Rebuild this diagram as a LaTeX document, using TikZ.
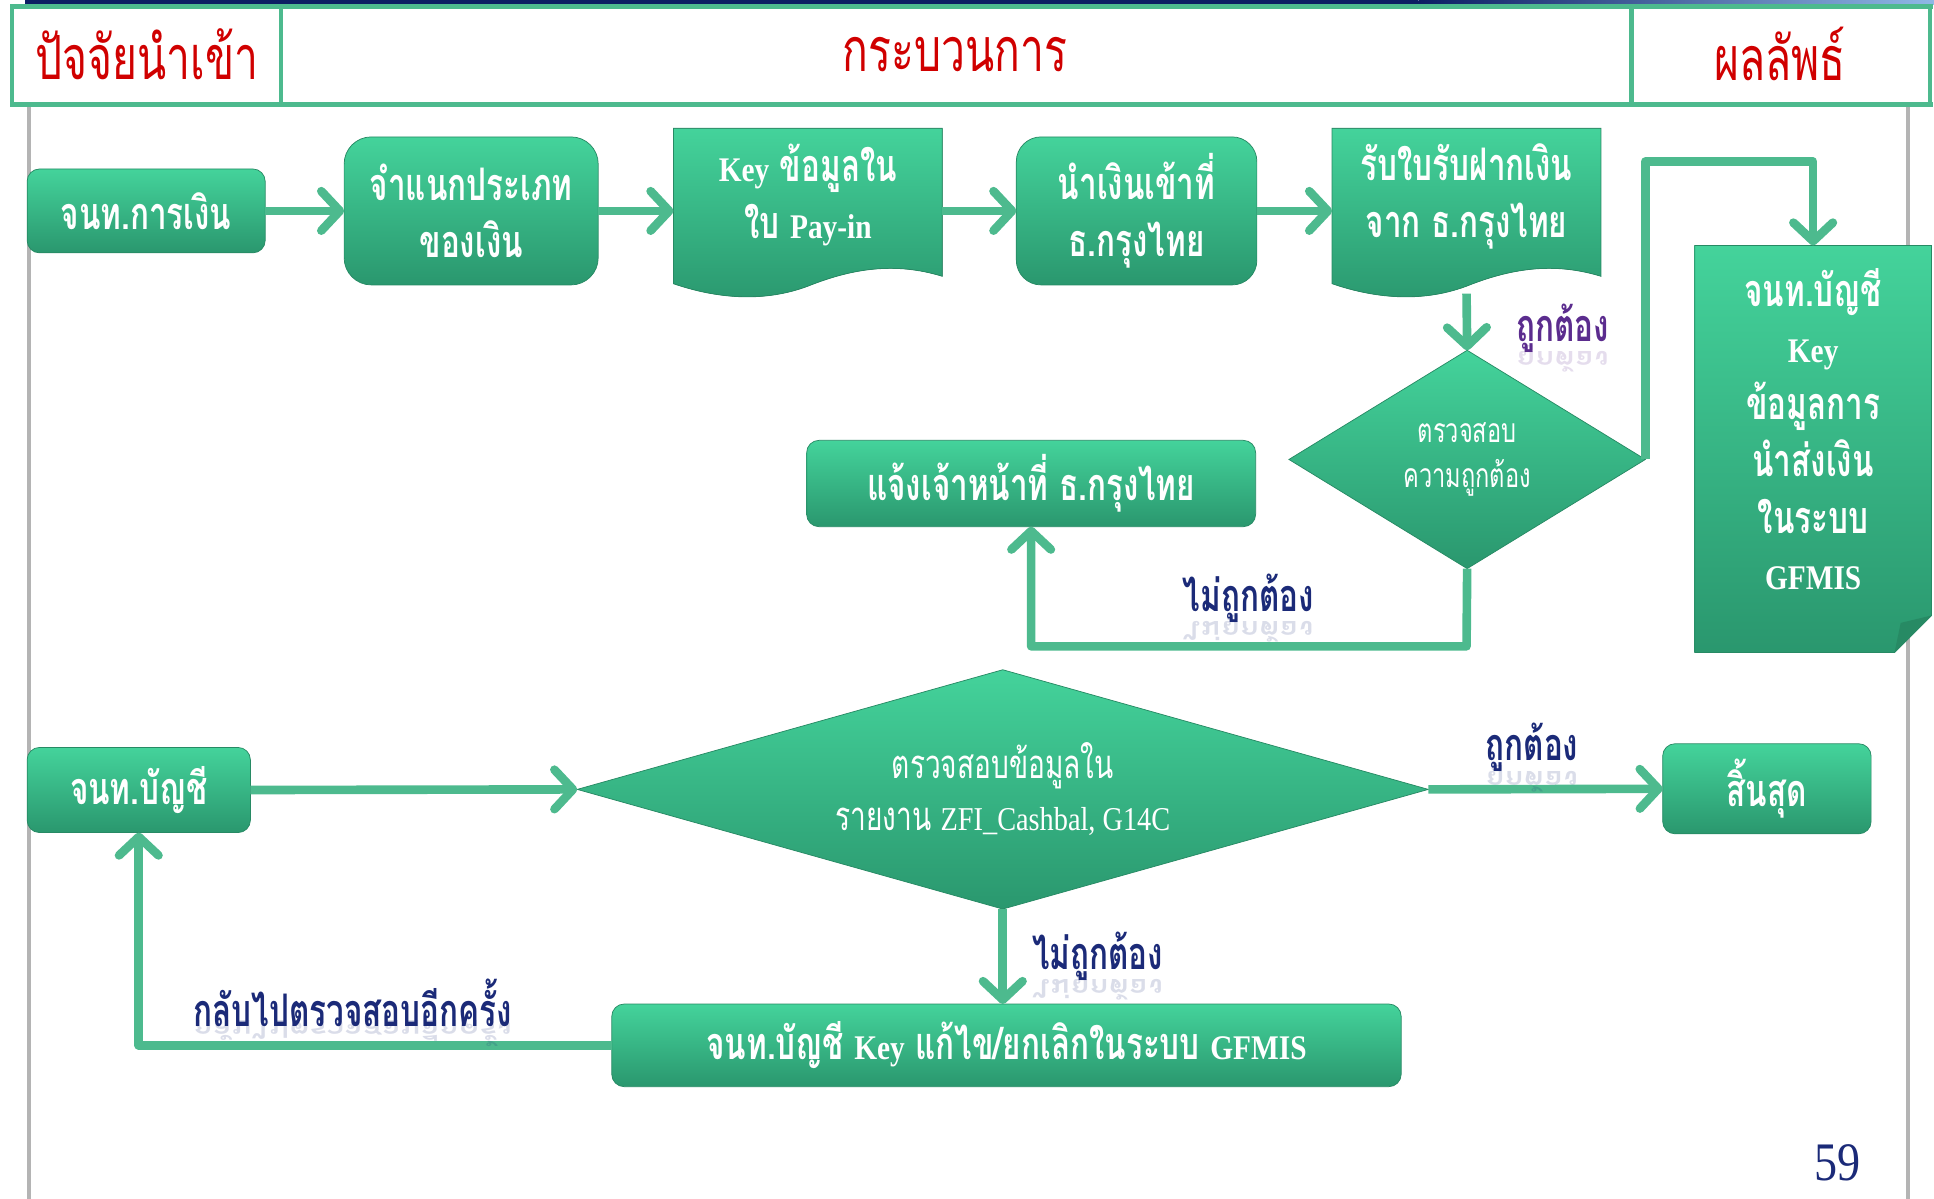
\documentclass[tikz,border=0pt]{standalone}
\usepackage{fontspec}
\setmainfont[FakeStretch=0.85]{Liberation Serif}
\newfontfamily\thaifont[Script=Thai,Scale=1.3,FakeStretch=0.7]{Loma}
\usetikzlibrary{arrows.meta,shapes.geometric,calc}

\definecolor{gtop}{HTML}{44D39B}
\definecolor{gbot}{HTML}{2A976E}
\definecolor{gedge}{HTML}{278A64}
\definecolor{wire}{HTML}{4DBA8E}
\definecolor{hdrred}{HTML}{D00000}
\definecolor{navy}{HTML}{1B2A78}
\definecolor{plum}{HTML}{5B2C8E}
\definecolor{rulegray}{HTML}{B4B4B4}
\definecolor{bandnavy}{HTML}{0C1E63}
\definecolor{bandblue}{HTML}{8FB8E6}

\newcommand\engl[1]{{\rmfamily #1}}

\begin{document}
\begin{tikzpicture}[x=1pt,y=-1pt,
  every node/.style={inner sep=0pt,outer sep=0pt},
  boxtext/.style={text=white,align=center,font=\fontsize{28}{46}\selectfont\bfseries\thaifont},
  gbox/.style={boxtext,rectangle,rounded corners=#1,top color=gtop,bottom color=gbot,draw=gedge,line width=0.6pt},
  gbox/.default=10pt,
  anchorbox/.style={rectangle},
  gdiamond/.style={diamond,text=white,align=center,top color=gtop,bottom color=gbot,draw=gedge,line width=0.6pt},
  conn/.style={draw=wire,line width=7pt,line join=round,-{Straight Barb[length=15pt,width=32pt,round]}},
  lab/.style={font=\fontsize{28}{30}\selectfont\bfseries\thaifont,text=navy},
  mirror/.style={lab,text opacity=0.16},
  hdr/.style={font=\fontsize{38}{40}\selectfont\thaifont,text=hdrred},
  pics/docshape/.style={code={
    \fill[top color=gtop,bottom color=gbot,draw=gedge,line width=0.6pt]
      (0,0) -- (218,0) -- (218,120) .. controls (179,108) and (144,114) .. (109,128)
      .. controls (69,143) and (29,136) .. (0,126) -- cycle;}}
]
\useasboundingbox (0,0) rectangle (1568,972);

% title band and header table
\fill[bandnavy] (20,0) rectangle (1150,3.4);
\shade[left color=bandnavy,right color=bandblue] (1150,0) rectangle (1568,3.4);
\fill[wire] (9,3.3) rectangle (1567,7.6);
\fill[wire] (9,82.5) rectangle (1567,86.7);
\fill[wire] (8,3.3) rectangle (11.5,86.7);
\fill[wire] (226,3.3) rectangle (229.5,86.7);
\fill[wire] (1321,3.3) rectangle (1324.5,86.7);
\fill[wire] (1563,3.3) rectangle (1566.5,86.7);
\node[hdr] (hin)  at (119,44)  {ปัจจัยนำเข้า};
\node[hdr] (hpro) at (774,44)  {กระบวนการ};
\node[hdr] (hout) at (1443,44) {ผลลัพธ์};

% side rules
\fill[rulegray] (22,86.7) rectangle (25.5,972);
\fill[rulegray] (1545,86.7) rectangle (1548.5,972);

% upper flow
\node[gbox] (n1) at (118.5,171) [minimum width=193,minimum height=68] {จนท.การเงิน};
\node[gbox=22pt] (n2) at (382,171) [minimum width=206,minimum height=120] {จำแนกประเภท\\ของเงิน};
\pic at (546,104) {docshape};
\node[anchorbox,minimum width=218,minimum height=134] (n3) at (655,171) {};
\node[boxtext] (t3) at (655,158) {\engl{Key} ข้อมูลใน\\ใบ \engl{Pay-in}};
\node[gbox=20pt] (n4) at (921.5,171) [minimum width=195,minimum height=120] {นำเงินเข้าที่\\ธ.กรุงไทย};
\pic at (1080,104) {docshape};
\node[anchorbox,minimum width=218,minimum height=134] (n5) at (1189,171) {};
\node[boxtext] (t5) at (1189,159) {รับใบรับฝากเงิน\\จาก ธ.กรุงไทย};
\node[gdiamond,aspect=1.63,minimum width=289,minimum height=177,font=\fontsize{21}{36}\selectfont\thaifont] (d6) at (1189.5,372.5) {ตรวจสอบ\\ความถูกต้อง};
\node[gbox] (n7) at (836,392) [minimum width=364,minimum height=70] {แจ้งเจ้าหน้าที่ ธ.กรุงไทย};

% record box with folded corner
\fill[top color=gtop,bottom color=gbot,draw=gedge,line width=0.6pt]
  (1374,199) -- (1566,199) -- (1566,499) -- (1536,529) -- (1374,529) -- cycle;
\fill[gedge] (1566,499) -- (1536,529) -- (1541,505) -- cycle;
\node[anchorbox,minimum width=192,minimum height=330] (n8) at (1470,364) {};
\node[boxtext] (t8) at (1470,348) {จนท.บัญชี\\\engl{Key}\\ข้อมูลการ\\นำส่งเงิน\\ในระบบ\\\engl{GFMIS}};

% lower flow
\node[gbox] (n9) at (112.5,640.5) [minimum width=181,minimum height=69] {จนท.บัญชี};
\node[gdiamond,aspect=3.56,minimum width=690,minimum height=194,font=\fontsize{25}{42}\selectfont\thaifont] (d10) at (813,640) {ตรวจสอบข้อมูลใน\\รายงาน \engl{\fontsize{27}{42}\selectfont ZFI\_Cashbal, G14C}};
\node[gbox] (n11) at (1432.5,639.5) [minimum width=169,minimum height=73] {สิ้นสุด};
\node[gbox] (n12) at (816,847.5) [minimum width=640,minimum height=67] {จนท.บัญชี \engl{Key} แก้ไข/ยกเลิกในระบบ \engl{GFMIS}};

% connectors
\coordinate (topturn) at (1334,131);
\coordinate (lowturn) at (1189,524);
\draw[conn] (n1.east) -- (n2.west);
\draw[conn] (n2.east) -- (n3.west);
\draw[conn] (n3.east) -- (n4.west);
\draw[conn] (n4.east) -- (n5.west);
\draw[conn] (n5.south) -- (d6.north);
\draw[conn] (d6.east) -- (d6.east |- topturn) -| (n8.north);
\draw[conn] (d6.south) -- (lowturn) -| (n7.south);
\draw[conn] (n9.east) -- (d10.west);
\draw[conn] (d10.east) -- (n11.west);
\draw[conn] (d10.south) -- (d10.south |- n12.north);
\draw[conn] (n12.west) -| (n9.south);

% branch labels with their faint reflections
\node[lab,text=plum] (l1) at (1267,266) {ถูกต้อง};
\node[mirror,text=plum] (l1r) at (1267,291) {\scalebox{1}[-0.55]{ถูกต้อง}};
\node[lab] (l2) at (1012,485) {ไม่ถูกต้อง};
\node[mirror] (l2r) at (1012,510) {\scalebox{1}[-0.55]{ไม่ถูกต้อง}};
\node[lab] (l3) at (1242,606) {ถูกต้อง};
\node[mirror] (l3r) at (1242,631) {\scalebox{1}[-0.55]{ถูกต้อง}};
\node[lab] (l4) at (890,775) {ไม่ถูกต้อง};
\node[mirror] (l4r) at (890,800) {\scalebox{1}[-0.55]{ไม่ถูกต้อง}};
\node[lab] (l5) at (286,813) {กลับไปตรวจสอบอีกครั้ง};
\node[mirror] (l5r) at (286,838) {\scalebox{1}[-0.55]{กลับไปตรวจสอบอีกครั้ง}};

% page number
\node[font=\fontsize{44}{50}\selectfont,text=navy] (pg) at (1490,943) {59};
\end{tikzpicture}
\end{document}
